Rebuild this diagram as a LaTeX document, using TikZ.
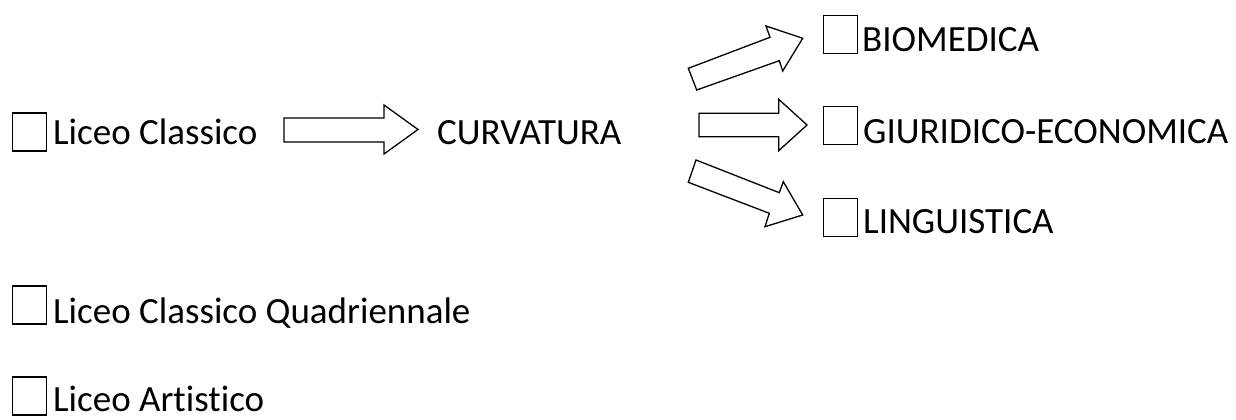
\documentclass[tikz,border=0pt]{standalone}
\usepackage{fontspec}
\setmainfont{Carlito}[Ligatures=NoCommon]
\begin{document}
\begin{tikzpicture}[x=1pt,y=-1pt,
  lbl/.style={anchor=base west,inner sep=0pt,font=\fontsize{37}{40}\selectfont},
  chk/.style={draw,line width=1.4pt,minimum width=34pt,minimum height=38pt,inner sep=0pt,anchor=south west},
  blockarrow/.style={draw,line width=1.3pt,line join=miter,fill=white}]
\useasboundingbox (0,0) rectangle (1236,420);
% left column
\node[chk] (b1) at (11.5,151.5) {};
\node[lbl] (t1) at (53,144) {Liceo Classico};
\node[lbl] (curv) at (437,144) {CURVATURA};
\node[chk] (b2) at (11.5,324.5) {};
\node[lbl] (t2) at (53,323) {Liceo Classico Quadriennale};
\node[chk] (b3) at (11.5,415.5) {};
\node[lbl] (t3) at (53,411) {Liceo Artistico};
% right column
\node[chk] (b4) at (823,54) {};
\node[lbl] (t4) at (862,52) {BIOMEDICA};
\node[chk] (b5) at (823,145) {};
\node[lbl] (t5) at (863,143) {GIURIDICO-ECONOMICA};
\node[chk] (b6) at (823,237) {};
\node[lbl] (t6) at (863,233) {LINGUISTICA};
% block arrows
\draw[blockarrow] (284,118) -- (384,118) -- (384,105) -- (418,129.5) -- (384,154) -- (384,142) -- (284,142) -- cycle;
\draw[blockarrow] (696.7,90) -- (688.3,68.3) -- (770,37.3) -- (766,26) -- (802.7,38.3) -- (782.7,71) -- (779.3,60.7) -- cycle;
\draw[blockarrow] (699,113.3) -- (778.7,113.3) -- (778.7,99.3) -- (807,125) -- (778.7,150.7) -- (778.7,136.7) -- (699,136.7) -- cycle;
\draw[blockarrow] (696,160) -- (779.3,192.7) -- (783.3,181.7) -- (802.7,215) -- (765,226.7) -- (769.3,213.3) -- (688.3,182.3) -- cycle;
\end{tikzpicture}
\end{document}
